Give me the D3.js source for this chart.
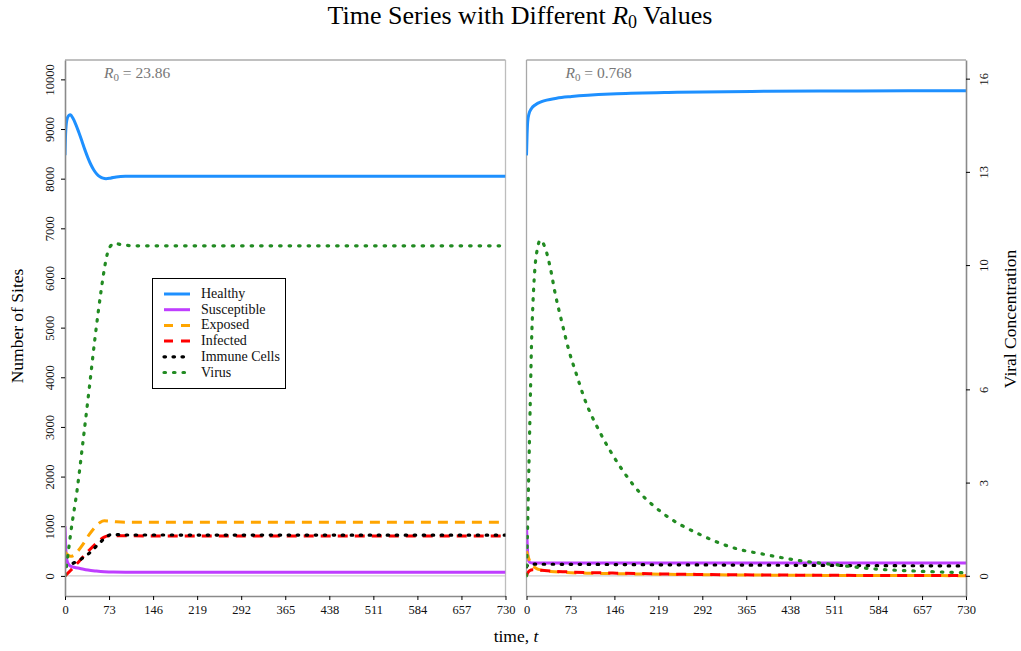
<!DOCTYPE html>
<html>
<head>
<meta charset="utf-8">
<script src="https://cdn.jsdelivr.net/npm/d3@7"></script>
<style>
  body { margin: 0; background: #fff; }
  svg { display: block; }
  text { font-family: "Liberation Serif", "Times New Roman", serif; }
</style>
</head>
<body>
<svg id="chart" width="1021" height="651"></svg>
<script>
// ---- Data -------------------------------------------------------------
// Time in days; cell counts in sites; virus in viral concentration units.
const xTicks = [0, 73, 146, 219, 292, 365, 438, 511, 584, 657, 730];
const siteTicks = [0, 1000, 2000, 3000, 4000, 5000, 6000, 7000, 8000, 9000, 10000];
const virusTicks = [0, 3, 6, 10, 13, 16];

const seriesNames = ["Healthy", "Susceptible", "Exposed", "Infected", "Immune Cells", "Virus"];
const seriesColors = ["#1e90ff", "#bf3eff", "#ffa500", "#ff0000", "#000000", "#228b22"];

const r0Labels = ["23.86", "0.768"];

// Panel 1: R0 = 23.86
const healthyA = [[0,8470],[1,8900],[3,9180],[6,9270],[9,9285],[13,9220],[18,9090],[23,8930],[28,8760],[33,8580],[38,8420],[43,8280],[48,8170],[53,8090],[58,8040],[63,8010],[68,8000],[75,8010],[85,8035],[100,8048],[130,8050],[730,8050]];
const susceptibleA = [[0,1000],[1,640],[2,420],[4,280],[8,205],[15,175],[25,150],[38,118],[52,98],[65,84],[80,76],[100,74],[730,74]];
const exposedA = [[0,480],[4,430],[9,395],[14,410],[20,480],[30,640],[40,830],[50,985],[58,1075],[65,1110],[72,1105],[85,1090],[100,1082],[130,1080],[730,1080]];
const infectedA = [[0,0],[10,120],[20,250],[30,385],[40,515],[50,635],[58,725],[65,780],[72,808],[80,812],[100,806],[730,805]];
const immuneA = [[0,180],[10,235],[20,295],[30,365],[40,455],[50,575],[60,695],[68,780],[76,830],[85,832],[100,824],[730,820]];
const virusA = [[0,0],[5,0.7],[10,1.45],[20,2.75],[30,4.35],[40,6.0],[50,7.7],[60,9.2],[65,9.85],[70,10.35],[75,10.6],[82,10.7],[95,10.65],[120,10.62],[730,10.62]];

// Panel 2: R0 = 0.768
const healthyB = [[0,8470],[1,8900],[2,9150],[4,9300],[8,9410],[15,9490],[25,9550],[50,9620],[75,9655],[150,9710],[250,9740],[400,9760],[550,9768],[730,9772]];
const susceptibleB = [[0,1000],[1,700],[2,450],[3,330],[5,275],[10,258],[730,258]];
const exposedB = [[0,500],[3,380],[6,280],[10,210],[15,160],[25,115],[40,90],[60,72],[100,55],[150,45],[250,30],[400,15],[550,8],[730,5]];
const infectedB = [[0,0],[2,60],[5,105],[10,125],[15,122],[25,112],[40,98],[60,85],[100,68],[150,55],[250,35],[400,18],[550,10],[730,6]];
const immuneB = [[0,180],[3,230],[10,235],[200,225],[400,215],[730,200]];
const virusB = [[0,0],[3,2.6],[6.6,5.9],[8.3,7.44],[10.5,8.67],[14,9.9],[17.8,10.5],[23,10.8],[31,10.55],[39,9.96],[48,9.05],[59,8.14],[70,7.28],[84,6.42],[95,5.77],[123,4.58],[146,3.8],[189,2.66],[226,2.02],[289,1.32],[355,0.84],[384,0.73],[450,0.5],[511,0.36],[578,0.22],[650,0.15],[730,0.1]];

const panelSeries = [
  [healthyA, susceptibleA, exposedA, infectedA, immuneA, virusA],
  [healthyB, susceptibleB, exposedB, infectedB, immuneB, virusB]
];

// ---- Layout -------------------------------------------------------------
const svg = d3.select("#chart");
const plotTop = 60, plotBottom = 596;
const panels = [
  { left: 65, right: 505.5 },
  { left: 526.5, right: 966 }
];

const ySites = d3.scaleLinear().domain([-405, 10390]).range([plotBottom, plotTop]);
const yVirus = d3.scaleLinear().domain([-0.65, 16.6]).range([plotBottom, plotTop]);

// line styles per series
const styles = [
  { width: 3, dash: null, cap: "butt" },
  { width: 3, dash: null, cap: "butt" },
  { width: 3, dash: "10,7", cap: "butt" },
  { width: 3, dash: "10,7", cap: "butt" },
  { width: 3.2, dash: "1.5,7.5", cap: "round" },
  { width: 3.2, dash: "1.5,8", cap: "round" }
];

// ---- Title ---------------------------------------------------------------
const title = svg.append("text")
  .attr("x", 520).attr("y", 24)
  .attr("text-anchor", "middle")
  .attr("font-size", 26);
title.append("tspan").text("Time Series with Different ");
title.append("tspan").attr("font-style", "italic").text("R");
title.append("tspan").attr("font-size", 18).attr("dy", 4).text("0");
title.append("tspan").attr("dy", -4).text(" Values");

const defs = svg.append("defs");

// ---- Panels -------------------------------------------------------------
panels.forEach((p, i) => {
  const x = d3.scaleLinear().domain([0, 730]).range([p.left, p.right]);
  const g = svg.append("g");

  const clipId = "clip" + i;
  defs.append("clipPath").attr("id", clipId)
    .append("rect").attr("x", p.left).attr("y", plotTop)
    .attr("width", p.right - p.left).attr("height", plotBottom - plotTop);

  // zero reference line
  g.append("line")
    .attr("x1", p.left).attr("x2", p.right)
    .attr("y1", ySites(0)).attr("y2", ySites(0))
    .attr("stroke", "#cfcfcf").attr("stroke-width", 1.3);

  // frame: light top / outer sides
  g.append("line").attr("x1", p.left).attr("x2", p.right).attr("y1", plotTop).attr("y2", plotTop)
    .attr("stroke", "#ababab").attr("stroke-width", 1.3);
  if (i === 0) {
    g.append("line").attr("x1", p.right).attr("x2", p.right).attr("y1", plotTop).attr("y2", plotBottom)
      .attr("stroke", "#bdbdbd").attr("stroke-width", 1.3);
  } else {
    g.append("line").attr("x1", p.left).attr("x2", p.left).attr("y1", plotTop).attr("y2", plotBottom)
      .attr("stroke", "#a8a8a8").attr("stroke-width", 1.3);
  }

  // series
  const lines = g.append("g").attr("clip-path", `url(#${clipId})`);
  panelSeries[i].forEach((data, k) => {
    const yS = k === 5 ? yVirus : ySites;
    const lineGen = d3.line().x(d => x(d[0])).y(d => yS(d[1])).curve(d3.curveMonotoneX);
    const st = styles[k];
    lines.append("path")
      .datum(data)
      .attr("d", lineGen)
      .attr("fill", "none")
      .attr("stroke", seriesColors[k])
      .attr("stroke-width", st.width)
      .attr("stroke-linecap", st.cap)
      .attr("stroke-dasharray", st.dash);
  });

  // bottom axis
  const xAxis = d3.axisBottom(x).tickValues(xTicks).tickSize(4).tickSizeOuter(0).tickPadding(5);
  const gx = g.append("g").attr("transform", `translate(0,${plotBottom})`).call(xAxis);
  gx.select(".domain").attr("stroke", "#8a8a8a").attr("stroke-width", 1.6);
  gx.selectAll(".tick line").attr("stroke", "#000");
  gx.selectAll(".tick text").attr("font-size", 12.5)
    .attr("font-family", "Liberation Serif, serif").attr("fill", "#111");

  // annotation
  const ann = g.append("text")
    .attr("x", p.left + 39).attr("y", 78)
    .attr("font-size", 15.5).attr("fill", "#777");
  ann.append("tspan").attr("font-style", "italic").text("R");
  ann.append("tspan").attr("font-size", 11).attr("dy", 3).text("0");
  ann.append("tspan").attr("dy", -3).text(" = " + r0Labels[i]);

  if (i === 0) {
    const yAxis = d3.axisLeft(ySites).tickValues(siteTicks).tickFormat(d3.format("d"))
      .tickSize(4).tickSizeOuter(0).tickPadding(0);
    const gy = g.append("g").attr("transform", `translate(${p.left},0)`).call(yAxis);
    gy.select(".domain").attr("stroke", "#8a8a8a").attr("stroke-width", 1.6);
    gy.selectAll(".tick line").attr("stroke", "#000");
    gy.selectAll(".tick text")
      .attr("font-size", 12.5).attr("fill", "#111")
      .attr("text-anchor", "middle")
      .attr("x", 0).attr("dy", 0)
      .attr("transform", "translate(-11,0) rotate(-90)");
  } else {
    const yAxis = d3.axisRight(yVirus).tickValues(virusTicks).tickSize(4).tickSizeOuter(0).tickPadding(0);
    const gy = g.append("g").attr("transform", `translate(${p.right},0)`).call(yAxis);
    gy.select(".domain").attr("stroke", "#8a8a8a").attr("stroke-width", 1.6);
    gy.selectAll(".tick line").attr("stroke", "#000");
    gy.selectAll(".tick text")
      .attr("font-size", 12.5).attr("fill", "#111")
      .attr("text-anchor", "middle")
      .attr("x", 0).attr("dy", 0)
      .attr("transform", "translate(22,0) rotate(-90)");
  }
});

// ---- Axis titles -------------------------------------------------------
const xt = svg.append("text").attr("x", 516).attr("y", 642)
  .attr("text-anchor", "middle").attr("font-size", 17.5);
xt.append("tspan").text("time, ");
xt.append("tspan").attr("font-style", "italic").text("t");

svg.append("text")
  .attr("transform", "translate(23,326) rotate(-90)")
  .attr("text-anchor", "middle").attr("font-size", 17.5)
  .text("Number of Sites");

svg.append("text")
  .attr("transform", "translate(1016,319) rotate(-90)")
  .attr("text-anchor", "middle").attr("font-size", 17.5)
  .text("Viral Concentration");

// ---- Legend ------------------------------------------------------------
const legend = svg.append("g");
legend.append("rect")
  .attr("x", 152.5).attr("y", 278.5).attr("width", 133).attr("height", 110)
  .attr("fill", "#fff").attr("stroke", "#000").attr("stroke-width", 1);
seriesNames.forEach((name, k) => {
  const yy = 294 + k * 15.7;
  const st = styles[k];
  legend.append("line")
    .attr("x1", 164).attr("x2", 190).attr("y1", yy).attr("y2", yy)
    .attr("stroke", seriesColors[k]).attr("stroke-width", st.width)
    .attr("stroke-linecap", st.cap)
    .attr("stroke-dasharray", k === 2 || k === 3 ? "9,8" : st.dash);
  legend.append("text")
    .attr("x", 201).attr("y", yy + 4)
    .attr("font-size", 14).attr("fill", "#111")
    .text(name);
});
</script>
</body>
</html>
